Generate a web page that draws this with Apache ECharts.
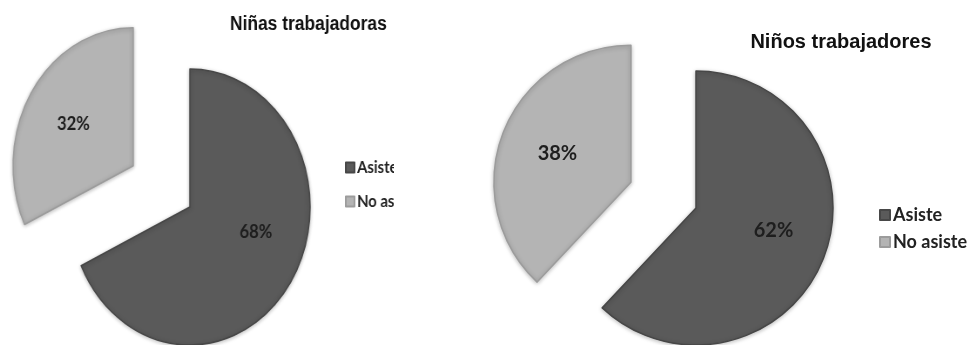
<!DOCTYPE html>
<html>
<head>
<meta charset="utf-8">
<script src="https://cdn.jsdelivr.net/npm/echarts@6/dist/echarts.min.js"></script>
<style>
html,body{margin:0;padding:0;background:#fff;}
#wrap{position:relative;width:972px;height:345px;overflow:hidden;}
#right{position:absolute;left:0;top:0;width:972px;height:345px;}
#leftClip{position:absolute;left:0;top:0;width:394px;height:345px;overflow:hidden;}
#left{position:absolute;left:0;top:0;width:560px;height:345px;transform:scaleX(0.871);transform-origin:0 0;}
</style>
</head>
<body>
<div id="wrap">
  <div id="right"></div>
  <div id="leftClip"><div id="left"></div></div>
</div>
<script>
var categories = ['Asiste', 'No asiste'];
var ninasValues = [68, 32];
var ninosValues = [62, 38];
var titles = ['Niñas trabajadoras', 'Niños trabajadores'];
var sliceColors = ['#5a5a5a', '#b4b4b4'];

function buildData(values) {
  return categories.map(function (c, i) {
    return {
      name: c,
      value: values[i],
      selected: i === 1,
      itemStyle: {
        color: sliceColors[i],
        borderColor: i === 0 ? '#474747' : '#9c9c9c',
        borderWidth: 1.5
      }
    };
  });
}

function makeOption(cfg) {
  return {
    animation: false,
    title: {
      text: cfg.title, left: cfg.titleX, top: cfg.titleY, textAlign: 'center',
      textStyle: { fontFamily: 'Liberation Sans', fontWeight: 'bold', fontSize: 20, color: '#111' }
    },
    legend: {
      orient: 'vertical', left: cfg.legendX, top: cfg.legendY, icon: 'rect',
      itemWidth: 10, itemHeight: 10, itemGap: cfg.legendGap,
      data: categories, selectedMode: false,
      textStyle: { fontFamily: 'Lato', fontWeight: 'bold', fontSize: cfg.legendFont, color: '#222', padding: [0, 0, 0, -2] }
    },
    series: [{
      type: 'pie',
      center: cfg.center,
      radius: cfg.radius,
      startAngle: 90,
      clockwise: true,
      selectedMode: 'single',
      selectedOffset: cfg.offset,
      avoidLabelOverlap: false,
      label: {
        show: true, position: 'inside', formatter: '{c}%', color: '#1e1e1e',
        fontFamily: 'Lato', fontWeight: 'bold', fontSize: cfg.labelFont
      },
      labelLayout: function (p) { return cfg.labelShift[p.dataIndex]; },
      labelLine: { show: false },
      emphasis: { disabled: true },
      itemStyle: { shadowBlur: 4, shadowColor: 'rgba(0,0,0,0.25)', shadowOffsetY: 1 },
      data: buildData(cfg.values)
    }]
  };
}

var leftChart = echarts.init(document.getElementById('left'));
leftChart.setOption(makeOption({
  title: titles[0], titleX: 349, titleY: 9,
  legendX: 391, legendY: 154, legendGap: 17, legendFont: 17,
  center: [218, 207], radius: 138, offset: 77, labelFont: 19,
  values: ninasValues,
  labelShift: [{ dx: 15, dy: -14 }, { dx: -8, dy: -3 }]
}));

var rightChart = echarts.init(document.getElementById('right'));
rightChart.setOption(makeOption({
  title: titles[1], titleX: 836, titleY: 27,
  legendX: 874, legendY: 201, legendGap: 9, legendFont: 18,
  center: [696, 208], radius: 137, offset: 70, labelFont: 20,
  values: ninosValues,
  labelShift: [{ dx: 11, dy: -4 }, { dx: -7, dy: -2 }]
}));
</script>
</body>
</html>
